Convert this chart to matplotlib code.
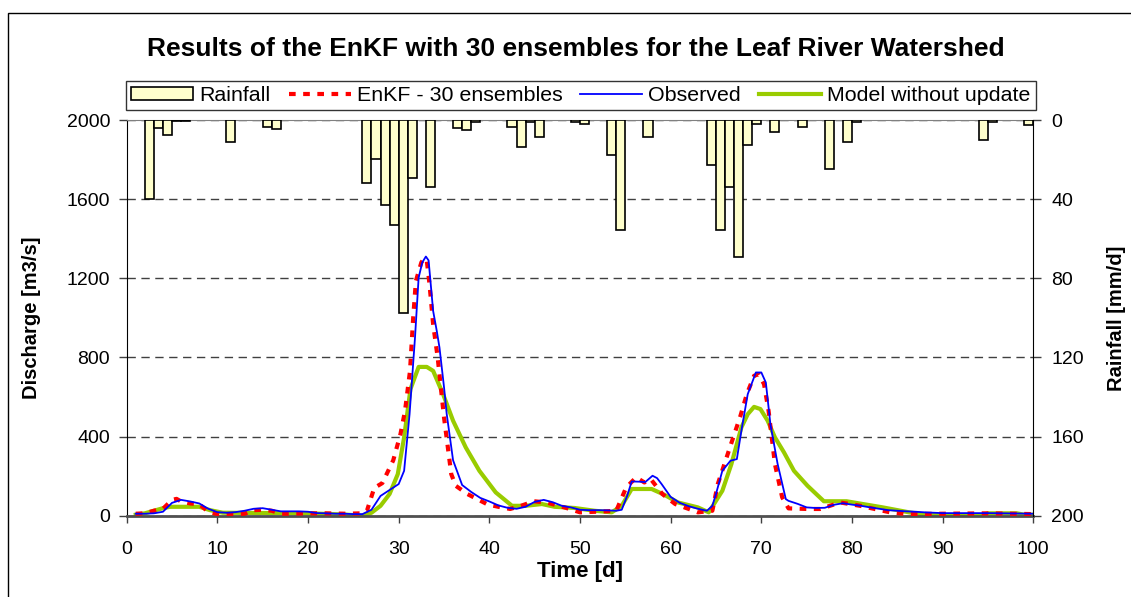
import matplotlib
matplotlib.use("Agg")
import matplotlib.pyplot as plt
from matplotlib.patches import Rectangle

plt.rcParams['font.family'] = ['Liberation Sans', 'DejaVu Sans']

# rainfall (mm/d), bar covers [day, day+1]
rain_day = [2, 3, 4, 5, 6, 11, 15, 16, 26, 27, 28, 29, 30, 31, 33, 36, 37, 38,
            42, 43, 44, 45, 49, 50, 53, 54, 57, 64, 65, 66, 67, 68, 69, 71, 74,
            77, 79, 80, 94, 95, 99]
rain_mm = [40, 4.2, 7.7, 0.6, 0.6, 11.1, 3.5, 4.4, 32, 19.5, 43, 53, 97.6, 29.5,
           33.8, 4.2, 5.2, 0.8, 3.4, 13.6, 1.0, 8.6, 0.8, 1.8, 17.8, 55.7, 8.6,
           22.9, 55.7, 33.8, 69.2, 12.8, 1.8, 6.1, 3.5, 24.6, 11.1, 0.8, 10.3,
           1.0, 2.7]

# observed discharge
obs_day = [1, 2, 3, 4, 5, 6, 7, 8, 9, 10, 11, 12, 13, 14, 15, 16, 17, 18, 19, 20,
           21, 22, 23, 24, 25, 26, 27, 28, 29, 30, 30.6, 31.2, 31.8, 32.2, 32.6,
           33, 33.3, 33.8, 34.2, 34.5, 35, 35.3, 36, 37, 38, 39, 40, 41, 42, 43,
           44, 45, 46, 47, 48, 49, 50, 51, 52, 53, 54, 54.6, 55.2, 55.7, 56.5,
           57.2, 58, 58.5, 59, 60, 61, 62, 63, 64, 64.6, 65, 65.7, 66.6, 67.3,
           67.8, 68.5, 69.4, 70, 70.5, 71, 71.8, 72.7, 73, 74, 75, 76, 77, 78,
           79, 80, 81, 82, 83, 84, 85, 86, 87, 88, 89, 90, 95, 100]
obs_q = [10, 10, 12, 20, 65, 80, 72, 62, 35, 18, 15, 18, 25, 35, 38, 30, 22, 22, 22, 20,
         13, 12, 10, 10, 8, 8, 30, 100, 130, 160, 227, 513, 900, 1203, 1280,
         1310, 1290, 1035, 934, 850, 650, 513, 280, 155, 120, 90, 72, 52, 40, 35,
         45, 70, 80, 68, 50, 42, 30, 28, 28, 27, 25, 30, 100, 173, 172,
         170, 202, 190, 160, 95, 65, 48, 35, 25, 50, 110, 227, 278, 286,
         429, 614, 724, 724, 673, 463, 261, 84, 75, 60, 42, 39, 40, 55,
         63, 56, 50, 42, 35, 28, 25, 22, 20, 17, 15, 13, 13, 10]

# EnKF with 30 ensembles
enkf_day = [1, 2, 3, 4, 5, 5.5, 6, 7, 8, 9, 10, 11, 12, 13, 14, 15, 16, 17, 18, 20,
            22, 24, 26, 26.5, 27.3, 28.2, 29.4, 30.2, 30.7, 31.25, 31.6, 31.9,
            32.5, 32.8, 33.1, 33.4, 33.8, 34.3, 35, 35.8, 36.3, 37.6, 39.8, 41,
            42.3, 43.5, 44.9, 46.3, 48.5, 50, 52.9, 54, 55.1, 56.2, 57.1, 57.8,
            59.1, 60.5, 62, 63, 64.6, 65.2, 66.6, 67.7, 68.4, 69.2, 69.7, 70.3,
            70.8, 71.5, 72.3, 73, 75.1, 76.5, 78.7, 80.9, 84.2, 86, 90, 95, 100]
enkf_q = [10, 12, 25, 35, 80, 85, 72, 62, 58, 20, 8, 8, 8, 10, 28, 30, 25, 10, 10, 12,
          12, 10, 12, 25, 140, 165, 280, 413, 530, 732, 1000, 1187,
          1280, 1300, 1290, 1170, 968, 800, 497, 210, 151, 109, 57, 45,
          34, 50, 73, 67, 39, 17, 22, 25, 143, 194, 168, 185,
          109, 59, 34, 17, 25, 160, 354, 505, 614, 707, 715, 665,
          530, 261, 93, 37, 34, 34, 67, 50, 17, 8, 10, 12, 8]

# model without update
model_day = [1, 2, 3, 4, 4.8, 8, 9.2, 10.6, 20, 24, 26, 27, 28, 29, 29.9, 30.6,
             31.3, 32.2, 33.1, 33.8, 34.9, 36, 37.4, 38.9, 40.7, 42.5, 44, 45.8,
             47.2, 49.4, 51.6, 53.5, 54.6, 55.7, 57.9, 59.3, 60.8, 63, 64.2,
             65.7, 66.7, 67.8, 68.5, 69.2, 69.9, 70.7, 71.5, 72.5, 73.6, 75.1,
             76.9, 79.4, 81.2, 83.4, 86.3, 88.4, 94.6, 95, 98.2, 99, 100]
model_q = [5, 12, 25, 38, 45, 45, 28, 15, 12, 6, 0, 15, 50, 110, 210, 396,
           640, 752, 752, 732, 614, 480, 345, 227, 118, 50, 50, 59,
           45, 39, 25, 17, 50, 135, 135, 106, 67, 42, 17,
           126, 261, 446, 513, 550, 539, 480, 396, 320, 227, 151,
           73, 73, 59, 42, 17, 3, 3, 12, 12, 5, 5]

fig = plt.figure(figsize=(11.31, 5.97), dpi=100)
ax = fig.add_axes([126.7 / 1131, 1 - 515.7 / 597, 906.6 / 1131, 395.7 / 597])
ax2 = ax.twinx()

ax.grid(axis='y', color='#404040', linestyle=(0, (6, 4)), linewidth=1)
ax.set_axisbelow(True)

l1, = ax.plot(enkf_day, enkf_q, color='#ff0000', lw=3, linestyle=(0, (1.6, 1.8)),
              label='EnKF - 30 ensembles', zorder=3)
l2, = ax.plot(obs_day, obs_q, color='#0000ff', lw=1.3, label='Observed', zorder=4)
l3, = ax.plot(model_day, model_q, color='#99cc00', lw=3, label='Model without update',
              zorder=2, solid_joinstyle='round')

bars = ax2.bar(rain_day, rain_mm, width=1.0, align='edge', color='#ffffcc',
               edgecolor='black', linewidth=1.2, label='Rainfall')

ax.set_xlim(0, 100)
ax.set_ylim(0, 2000)
ax.set_xticks(range(0, 101, 10))
ax.set_yticks(range(0, 2001, 400))
ax2.set_ylim(200, 0)
ax2.set_yticks(range(0, 201, 40))

ax.tick_params(axis='x', direction='out', length=5, width=1, labelsize=14, pad=13,
               color='#404040')
ax.tick_params(axis='y', direction='out', length=6, width=1, labelsize=14, pad=6,
               color='#404040')
ax2.tick_params(axis='y', direction='out', length=6, width=1, labelsize=14, pad=7,
                color='#404040')

ax.spines['left'].set_color('black')
ax.spines['top'].set_color('#808080')
ax.spines['bottom'].set_color('#505050')
ax.spines['bottom'].set_linewidth(2)
ax.spines['right'].set_visible(False)
for s in ['left', 'top', 'bottom']:
    ax2.spines[s].set_visible(False)
ax2.spines['right'].set_color('black')

ax.set_xlabel('Time [d]', fontsize=16, fontweight='bold', va='center')
ax.xaxis.set_label_coords(0.5, -0.14)
ax.set_ylabel('Discharge [m3/s]', fontsize=14.5, fontweight='bold')
ax.yaxis.set_label_coords(-0.095, 0.5)
ax2.set_ylabel('Rainfall [mm/d]', fontsize=14.5, fontweight='bold', rotation=90)
ax2.yaxis.set_label_coords(1.081, 0.5)

fig.text(576 / 1131, 1 - 48.5 / 597,
         'Results of the EnKF with 30 ensembles for the Leaf River Watershed',
         ha='center', va='center', fontsize=19, fontweight='bold')

leg = fig.legend([bars, l1, l2, l3],
                 ['Rainfall', 'EnKF - 30 ensembles', 'Observed', 'Model without update'],
                 loc='center', bbox_to_anchor=(581 / 1131, 1 - 95.5 / 597), ncol=4,
                 fontsize=15.4, frameon=True, fancybox=False, edgecolor='black',
                 handlelength=2.9, handletextpad=0.28, columnspacing=0.85,
                 borderpad=0.25, borderaxespad=0, handleheight=0.5)
leg.get_frame().set_linewidth(1)

fig.patches.append(Rectangle((8 / 1131, -0.1), 1.2, 1.1 - 13 / 597,
                             transform=fig.transFigure, fill=False,
                             edgecolor='black', linewidth=1))

fig.savefig('out.png', dpi=100)
